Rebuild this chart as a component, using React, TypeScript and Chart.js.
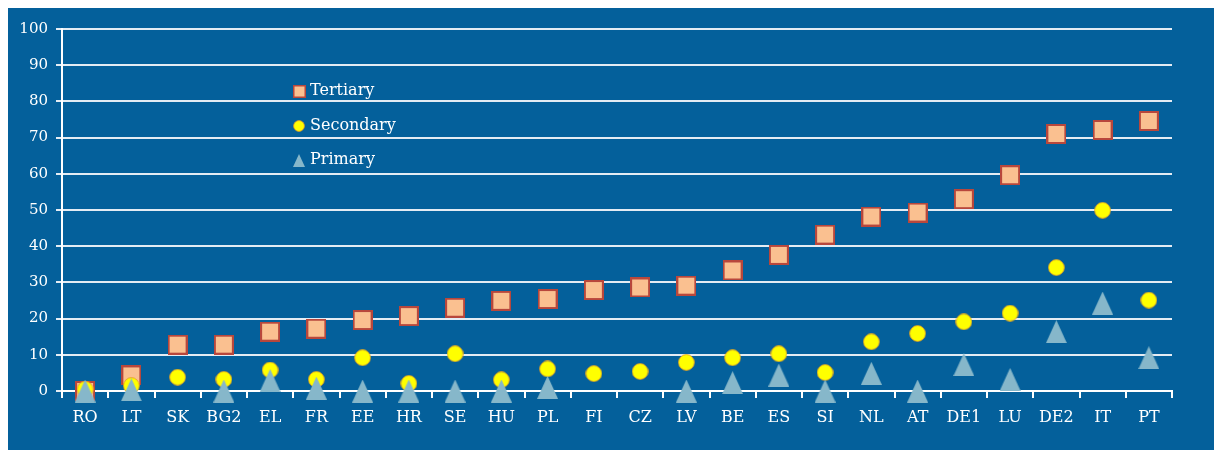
import React, { useEffect, useRef } from "react";
import { Chart, registerables } from "chart.js";

Chart.register(...registerables);

const categories = ["RO", "LT", "SK", "BG2", "EL", "FR", "EE", "HR", "SE", "HU", "PL", "FI", "CZ", "LV", "BE", "ES", "SI", "NL", "AT", "DE1", "LU", "DE2", "IT", "PT"];
const tertiary = [0, 4.3, 12.8, 12.8, 16.4, 17.2, 19.6, 20.7, 23, 24.9, 25.4, 27.9, 28.6, 29.1, 33.3, 37.6, 43.2, 48.2, 49.3, 53, 59.6, 71, 72.1, 74.6];
const secondary = [0.5, 1.5, 3.8, 3.2, 5.8, 3.2, 9.2, 2.1, 10.3, 3.1, 6.1, 4.8, 5.4, 7.9, 9.2, 10.3, 5.1, 13.6, 15.9, 19.1, 21.5, 34.1, 49.9, 25.1];
const primary = [0, 0.3, null, 0, 2.9, 0.8, 0, 0, 0, 0, 1, null, null, 0, 2.3, 4.4, 0, 4.9, 0, 7.3, 3.2, 16.4, 24.3, 9.2];
const seriesLabels = ["Tertiary", "Secondary", "Primary"];
const yTicks = [0, 10, 20, 30, 40, 50, 60, 70, 80, 90, 100];

const BG = "#04609b";
const FONT = "'DejaVu Serif', serif";

function makeSquare(size: number, lw: number) {
  const c = document.createElement("canvas");
  c.width = size; c.height = size;
  const g = c.getContext("2d")!;
  g.fillStyle = "#fac090";
  g.fillRect(0, 0, size, size);
  g.strokeStyle = "#b8473c";
  g.lineWidth = lw;
  g.strokeRect(lw / 2, lw / 2, size - lw, size - lw);
  return c;
}
function makeCircle(d: number) {
  const c = document.createElement("canvas");
  c.width = d; c.height = d;
  const g = c.getContext("2d")!;
  g.beginPath();
  g.arc(d / 2, d / 2, d / 2 - 0.6, 0, Math.PI * 2);
  g.fillStyle = "#ffff00";
  g.fill();
  g.strokeStyle = "rgba(225,150,40,0.8)";
  g.lineWidth = 1;
  g.stroke();
  return c;
}
function makeTriangle(w: number, h: number) {
  const c = document.createElement("canvas");
  c.width = w; c.height = h;
  const g = c.getContext("2d")!;
  g.beginPath();
  g.moveTo(w / 2, 0);
  g.lineTo(w, h);
  g.lineTo(0, h);
  g.closePath();
  g.fillStyle = "#86b7ca";
  g.fill();
  return c;
}

export default function App() {
  const ref = useRef<HTMLCanvasElement>(null);
  useEffect(() => {
    if (!ref.current) return;
    const sq = makeSquare(20, 2);
    const ci = makeCircle(17);
    const tr = makeTriangle(21, 23);
    const legendIcons = [makeSquare(13, 1.5), makeCircle(12), makeTriangle(12, 13)];

    const legendPlugin = {
      id: "customLegend",
      afterDraw(chart: any) {
        const ctx = chart.ctx;
        ctx.save();
        const x0 = 291;
        const ys = [83, 118, 152];
        chart.data.datasets.forEach((ds: any, i: number) => {
          const img = legendIcons[i];
          ctx.drawImage(img, Math.round(x0 - img.width / 2), Math.round(ys[i] - img.height / 2));
          ctx.fillStyle = "#ffffff";
          ctx.font = `16px ${FONT}`;
          ctx.textBaseline = "middle";
          ctx.textAlign = "left";
          ctx.fillText(ds.label, x0 + 11, ys[i]);
        });
        ctx.restore();
      },
    };

    const chart = new Chart(ref.current, {
      type: "line",
      data: {
        labels: categories,
        datasets: [
          { label: seriesLabels[0], data: tertiary, showLine: false, pointStyle: sq as any, pointRadius: 10, order: 3, clip: false as any },
          { label: seriesLabels[1], data: secondary, showLine: false, pointStyle: ci as any, pointRadius: 9, order: 2, clip: false as any },
          { label: seriesLabels[2], data: primary, showLine: false, pointStyle: tr as any, pointRadius: 11, order: 1, clip: false as any },
        ],
      },
      options: {
        responsive: false,
        animation: false,
        layout: { padding: { left: 0, right: 42, top: 21, bottom: 19 } },
        plugins: { legend: { display: false }, tooltip: { enabled: false } },
        scales: {
          x: {
            type: "category",
            offset: true,
            afterFit: (s: any) => { s.height = 40; },
            grid: { offset: true, drawOnChartArea: false, drawTicks: true, tickLength: 7, color: "#ffffff", lineWidth: 2 },
            border: { display: true, color: "#ffffff", width: 2 },
            ticks: { color: "#ffffff", font: { family: FONT, size: 16 }, padding: 10, maxRotation: 0, autoSkip: false },
          },
          y: {
            min: 0,
            max: 100,
            afterFit: (s: any) => { s.width = 54; },
            afterBuildTicks: (s: any) => { s.ticks = yTicks.map((v) => ({ value: v })); },
            grid: { color: "#e4ecf4", lineWidth: 2, tickLength: 6, drawTicks: true },
            border: { display: true, color: "#ffffff", width: 2 },
            ticks: { color: "#ffffff", font: { family: FONT, size: 15 }, padding: 8 },
          },
        },
      },
      plugins: [legendPlugin],
    });
    return () => chart.destroy();
  }, []);
  return (
    <div style={{ position: "fixed", left: 8, top: 8, width: 1206, height: 442, background: BG }}>
      <canvas ref={ref} width={1206} height={442} style={{ display: "block" }} />
    </div>
  );
}
